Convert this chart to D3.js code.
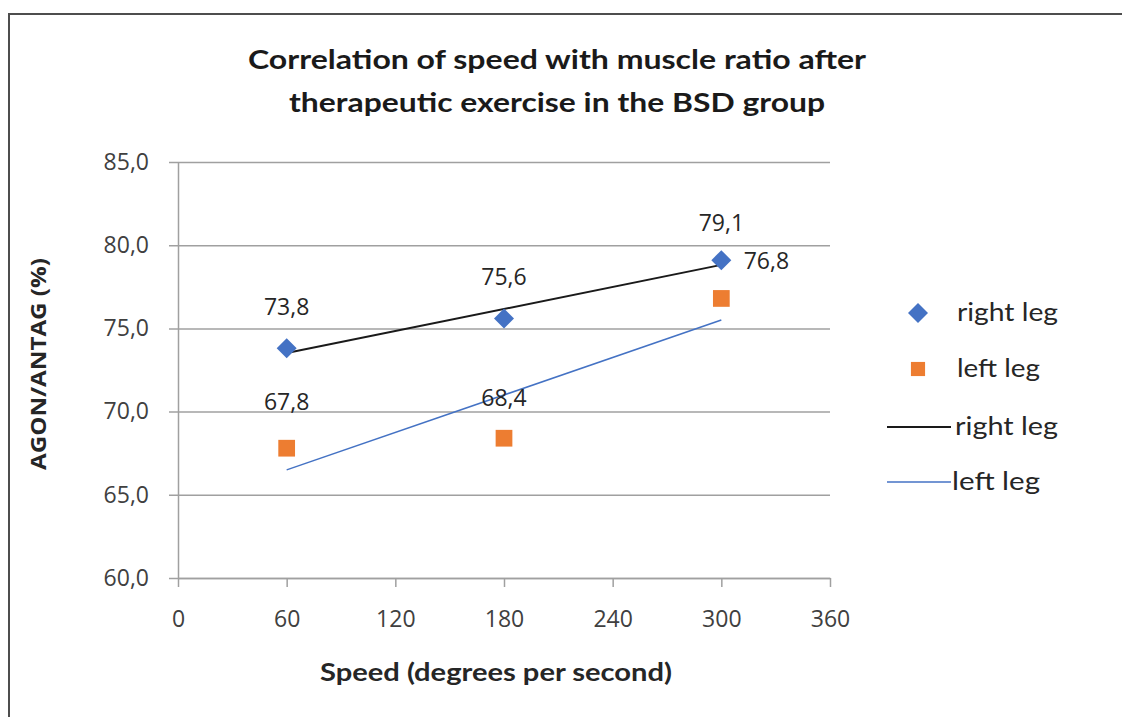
<!DOCTYPE html>
<html>
<head>
<meta charset="utf-8">
<script src="https://cdn.jsdelivr.net/npm/d3@7"></script>
<style>
  body { margin: 0; background: #fff; }
  svg { display: block; }
  .tick text { font-family: "Open Sans", sans-serif; font-size: 23px; fill: #404040; }
</style>
</head>
<body>
<div id="chart"></div>
<script>
// chart values
const speeds = [60, 180, 300];
const rightLeg = [73.8, 75.6, 79.1];
const leftLeg = [67.8, 68.4, 76.8];
const xTicks = [0, 60, 120, 180, 240, 300, 360];
const yTicks = [60, 65, 70, 75, 80, 85];
const seriesNames = ["right leg", "left leg"];
const titleLines = ["Correlation of speed with muscle ratio after", "therapeutic exercise in the BSD group"];

var w = 1122, h = 717;
var blue = "#4472C4", orange = "#ED7D31";

var svg = d3.select("#chart").append("svg").attr("width", w).attr("height", h);

// frame, only top and left edges show
svg.append("path")
  .attr("d", "M9,717 V14 H1122")
  .attr("fill", "none").attr("stroke", "#4d4d4d").attr("stroke-width", 2);

var x = d3.scaleLinear().domain([0, 360]).range([178, 830]);
var y = d3.scaleLinear().domain([60, 85]).range([578, 162]);
var fmt = function(v) { return d3.format(".1f")(v).replace(".", ","); };

// y axis + gridlines
var gy = svg.append("g").attr("transform", "translate(" + x(0) + ",0)")
  .call(d3.axisLeft(y).tickValues(yTicks).tickFormat(fmt).tickSizeInner(-(x(360) - x(0))).tickSizeOuter(0).tickPadding(29));
gy.selectAll(".tick line").attr("x1", -9).attr("stroke", "#a0a0a0").attr("stroke-width", 1.5);
gy.select(".domain").attr("stroke", "#a0a0a0").attr("stroke-width", 1.5);

// x axis
var gx = svg.append("g").attr("transform", "translate(0," + y(60) + ")")
  .call(d3.axisBottom(x).tickValues(xTicks).tickSizeInner(9).tickSizeOuter(0).tickPadding(24));
gx.selectAll(".tick line").attr("stroke", "#a0a0a0").attr("stroke-width", 1.5);
gx.select(".domain").attr("stroke", "#a0a0a0").attr("stroke-width", 1.5);

// linear trend (like excel's trendline)
function trend(xs, ys) {
  var mx = d3.mean(xs), my = d3.mean(ys);
  var b = d3.sum(xs, (v, i) => (v - mx) * (ys[i] - my)) / d3.sum(xs, v => (v - mx) * (v - mx));
  var a = my - b * mx;
  var x0 = d3.min(xs), x1 = d3.max(xs);
  return [[x0, a + b * x0], [x1, a + b * x1]];
}
var line = d3.line().x(d => x(d[0])).y(d => y(d[1]));

svg.append("path").datum(trend(speeds, rightLeg))
  .attr("d", line).attr("fill", "none").attr("stroke", "#1a1a1a").attr("stroke-width", 2);
svg.append("path").datum(trend(speeds, leftLeg))
  .attr("d", line).attr("fill", "none").attr("stroke", blue).attr("stroke-width", 1.5);

var diamond = d3.symbol().type(d3.symbolSquare).size(200);
var square = d3.symbol().type(d3.symbolSquare).size(280);

var rightPts = speeds.map((s, i) => [s, rightLeg[i]]);
var leftPts = speeds.map((s, i) => [s, leftLeg[i]]);

svg.selectAll("path.rmark").data(rightPts).enter().append("path")
  .attr("class", "rmark")
  .attr("d", diamond)
  .attr("transform", d => "translate(" + x(d[0]) + "," + y(d[1]) + ") rotate(45)")
  .attr("fill", blue);

svg.selectAll("path.lmark").data(leftPts).enter().append("path")
  .attr("class", "lmark")
  .attr("d", square)
  .attr("transform", d => "translate(" + x(d[0]) + "," + y(d[1]) + ")")
  .attr("fill", orange);

// data labels, the last left-leg label was shifted aside in the original
var leftShift = [[0, -6], [0, 0], [45, 3]];

svg.selectAll("text.rlab").data(rightPts).enter().append("text")
  .attr("class", "rlab")
  .attr("x", d => x(d[0]))
  .attr("y", (d, i) => y(d[1]) - 33 + (i == 2 ? 4 : 0))
  .attr("text-anchor", "middle")
  .style("font-family", "Open Sans, sans-serif").style("font-size", "23px").style("fill", "#262626")
  .text(d => fmt(d[1]));

svg.selectAll("text.llab").data(leftPts).enter().append("text")
  .attr("class", "llab")
  .attr("x", (d, i) => x(d[0]) + leftShift[i][0])
  .attr("y", (d, i) => y(d[1]) - 32 + leftShift[i][1])
  .attr("text-anchor", "middle")
  .style("font-family", "Open Sans, sans-serif").style("font-size", "23px").style("fill", "#262626")
  .text(d => fmt(d[1]));

// title
svg.selectAll("text.title").data(titleLines).enter().append("text")
  .attr("class", "title")
  .attr("x", 557)
  .attr("y", (d, i) => 69 + i * 43)
  .attr("text-anchor", "middle")
  .attr("textLength", (d, i) => i == 0 ? 618 : 536)
  .attr("lengthAdjust", "spacingAndGlyphs")
  .style("font-family", "Lato, sans-serif").style("font-weight", "bold").style("font-size", "27px").style("fill", "#1a1a1a")
  .text(d => d);

// axis titles
svg.append("text")
  .attr("transform", "translate(46,364) rotate(-90)")
  .attr("text-anchor", "middle")
  .attr("textLength", 212).attr("lengthAdjust", "spacingAndGlyphs")
  .style("font-family", "Open Sans, sans-serif").style("font-weight", "bold").style("font-size", "21px").style("fill", "#262626")
  .text("AGON/ANTAG (%)");

svg.append("text")
  .attr("x", 496).attr("y", 681)
  .attr("text-anchor", "middle")
  .attr("textLength", 352).attr("lengthAdjust", "spacingAndGlyphs")
  .style("font-family", "Lato, sans-serif").style("font-weight", "bold").style("font-size", "25px").style("fill", "#262626")
  .text("Speed (degrees per second)");

// legend
var legend = svg.append("g").attr("class", "legend");
var rows = [
  { kind: "diamond", name: seriesNames[0], y: 313, tx: 957, len: 101 },
  { kind: "square", name: seriesNames[1], y: 369, tx: 957, len: 83 },
  { kind: "line", color: "#1a1a1a", name: seriesNames[0], y: 427, tx: 955, len: 103 },
  { kind: "line", color: blue, name: seriesNames[1], y: 482, tx: 952, len: 88 }
];
rows.forEach(function(r) {
  if (r.kind == "diamond") {
    legend.append("path").attr("d", diamond).attr("fill", blue)
      .attr("transform", "translate(918," + r.y + ") rotate(45)");
  } else if (r.kind == "square") {
    legend.append("path").attr("d", d3.symbol().type(d3.symbolSquare).size(200)).attr("fill", orange)
      .attr("transform", "translate(918," + r.y + ")");
  } else {
    legend.append("line").attr("x1", 887).attr("x2", 951).attr("y1", r.y).attr("y2", r.y)
      .attr("stroke", r.color).attr("stroke-width", r.color == blue ? 1.5 : 2);
  }
  legend.append("text")
    .attr("x", r.tx).attr("y", r.y + 8)
    .attr("textLength", r.len).attr("lengthAdjust", "spacingAndGlyphs")
    .style("font-family", "Lato, sans-serif").style("font-size", "25px").style("fill", "#262626")
    .text(r.name);
});
</script>
</body>
</html>
